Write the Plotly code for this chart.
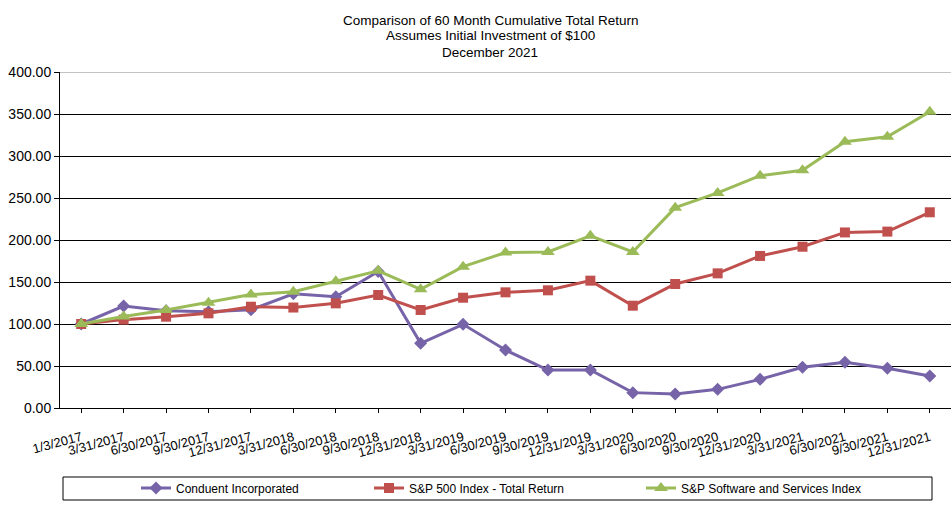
import plotly.graph_objects as go

dates = ["1/3/2017", "3/31/2017", "6/30/2017", "9/30/2017", "12/31/2017",
         "3/31/2018", "6/30/2018", "9/30/2018", "12/31/2018", "3/31/2019",
         "6/30/2019", "9/30/2019", "12/31/2019", "3/31/2020", "6/30/2020",
         "9/30/2020", "12/31/2020", "3/31/2021", "6/30/2021", "9/30/2021",
         "12/31/2021"]

conduent = [100.0, 121.4, 115.8, 114.7, 116.9, 136.0, 132.5, 162.5, 77.0, 99.6,
            69.0, 45.2, 45.2, 18.3, 16.7, 22.2, 34.1, 48.4, 54.4, 47.2, 38.1]
sp500 = [100.0, 105.2, 108.7, 112.7, 120.6, 119.6, 124.6, 134.5, 116.7, 131.3,
         137.7, 140.1, 151.6, 121.8, 147.6, 160.3, 181.0, 192.0, 209.0, 210.0, 233.0]
software = [100.0, 109.0, 116.7, 125.4, 135.0, 138.5, 150.8, 163.3, 141.3, 168.3,
            185.0, 185.7, 205.0, 185.7, 238.5, 256.0, 276.6, 283.0, 317.0, 323.0, 352.7]

names = ["Conduent Incorporated", "S&P 500 Index - Total Return",
         "S&P Software and Services Index"]
colors = ["#7663A8", "#C0504D", "#9BBB59"]
symbols = ["diamond", "square", "triangle-up"]
sizes = [10, 10, 12]
legend_ids = ["legend", "legend2", "legend3"]
legend_x = [136, 369, 641]
yticks = [0, 50, 100, 150, 200, 250, 300, 350, 400]
title_lines = ["Comparison of 60 Month Cumulative Total Return",
               "Assumes Initial Investment of $100",
               "December 2021"]

fig = go.Figure()
for vals, name, col, sym, sz, lid in zip([conduent, sp500, software], names, colors,
                                         symbols, sizes, legend_ids):
    fig.add_trace(go.Scatter(
        x=list(range(len(dates))), y=vals, name=name, mode="lines+markers",
        line=dict(color=col, width=3),
        marker=dict(symbol=sym, size=sz, color=col),
        legend=lid,
    ))

font = "Liberation Sans, Arial, sans-serif"
legends = {}
for lid, lx in zip(legend_ids, legend_x):
    legends[lid] = dict(
        orientation="h", xref="container", yref="container",
        x=lx / 951, xanchor="left", y=1 - 488 / 507, yanchor="middle",
        font=dict(size=12, family=font), bgcolor="rgba(0,0,0,0)",
        itemwidth=30,
    )

annotations = []
for i, line in enumerate(title_lines):
    annotations.append(dict(
        text=line, xref="paper", yref="paper", showarrow=False,
        x=(490 - 60) / 891, xanchor="center",
        y=1 + (72 - (20 + 16 * i)) / 336, yanchor="middle",
        font=dict(family=font, size=13.5, color="black"),
    ))

fig.update_layout(
    width=951, height=507,
    margin=dict(l=60, r=0, t=72, b=99, autoexpand=False),
    paper_bgcolor="white", plot_bgcolor="white",
    font=dict(family=font, size=12, color="black"),
    showlegend=True,
    annotations=annotations,
    xaxis=dict(
        range=[-0.5, len(dates) - 0.5], automargin=False,
        tickmode="array", tickvals=list(range(len(dates))), ticktext=dates,
        tickangle=-15, ticks="outside", ticklen=4, tickcolor="black",
        ticklabelstandoff=12,
        showline=True, linecolor="black", linewidth=1, showgrid=False,
        zeroline=False, tickfont=dict(size=13, family=font),
    ),
    yaxis=dict(
        range=[0, 400], tickmode="array", tickvals=yticks, automargin=False,
        tickformat=".2f", ticks="outside", ticklen=5, tickcolor="black",
        showline=True, linecolor="black", linewidth=1,
        showgrid=True, gridcolor="black", gridwidth=1, zeroline=False,
        tickfont=dict(size=14, family=font),
    ),
    shapes=[
        dict(type="line", xref="paper", yref="y", x0=0, x1=1, y0=400, y1=400,
             line=dict(color="#888888", width=1)),
        dict(type="rect", xref="paper", yref="paper",
             x0=(63 - 60) / 891, x1=(932 - 60) / 891,
             y0=-(477 - 408) / 336, y1=-(500 - 408) / 336,
             line=dict(color="black", width=1)),
    ],
    **legends,
)

fig.write_html("out.html", config={"displayModeBar": False},
               post_script="document.body.style.margin='0';document.body.style.overflow='hidden';")
